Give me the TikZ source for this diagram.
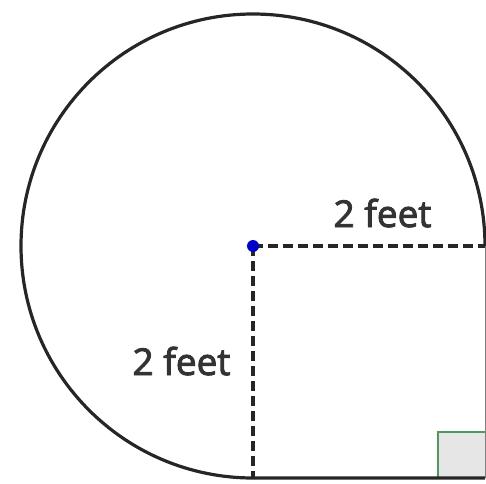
\documentclass[tikz,border=0pt]{standalone}
\usepackage{fontspec}
\newfontfamily\lblfont{Open Sans}[FakeBold=2.5]
\begin{document}
\begin{tikzpicture}[x=1pt,y=1pt]
\definecolor{txtgray}{HTML}{333333}
\definecolor{sqgreen}{HTML}{4E9A5E}
\definecolor{sqfill}{HTML}{E6E6E6}
\tikzset{
  outline/.style={line width=3.2pt,draw=black!85},
  radius line/.style={line width=4.2pt,draw=black!85,dash pattern=on 10pt off 5pt},
  lbl/.style={font=\lblfont\fontsize{37}{42}\selectfont,text=txtgray,inner sep=0pt,anchor=base},
}
\useasboundingbox (0,0) rectangle (486,483);
\coordinate (C) at (253,237);
\coordinate (R) at (485,237);
\coordinate (B) at (253,5);
\coordinate (BR) at (485,5);
\fill[sqfill] (438,5) rectangle (485,51);
\draw[sqgreen,line width=1.5pt] (438,5) -- (438,51) -- (485,51);
\draw[line width=1pt,draw=black!50] (R) -- (BR);
\draw[outline] (R) arc[start angle=0,end angle=270,radius=232] -- (BR);
\draw[radius line] (C) -- (R);
\draw[radius line] (C) -- (B);
\fill[blue!80!black] (C) circle (6pt);
\node[lbl] (top) at (382.5,256) {2 feet};
\node[lbl] (left) at (181.5,108) {2 feet};
\end{tikzpicture}
\end{document}
